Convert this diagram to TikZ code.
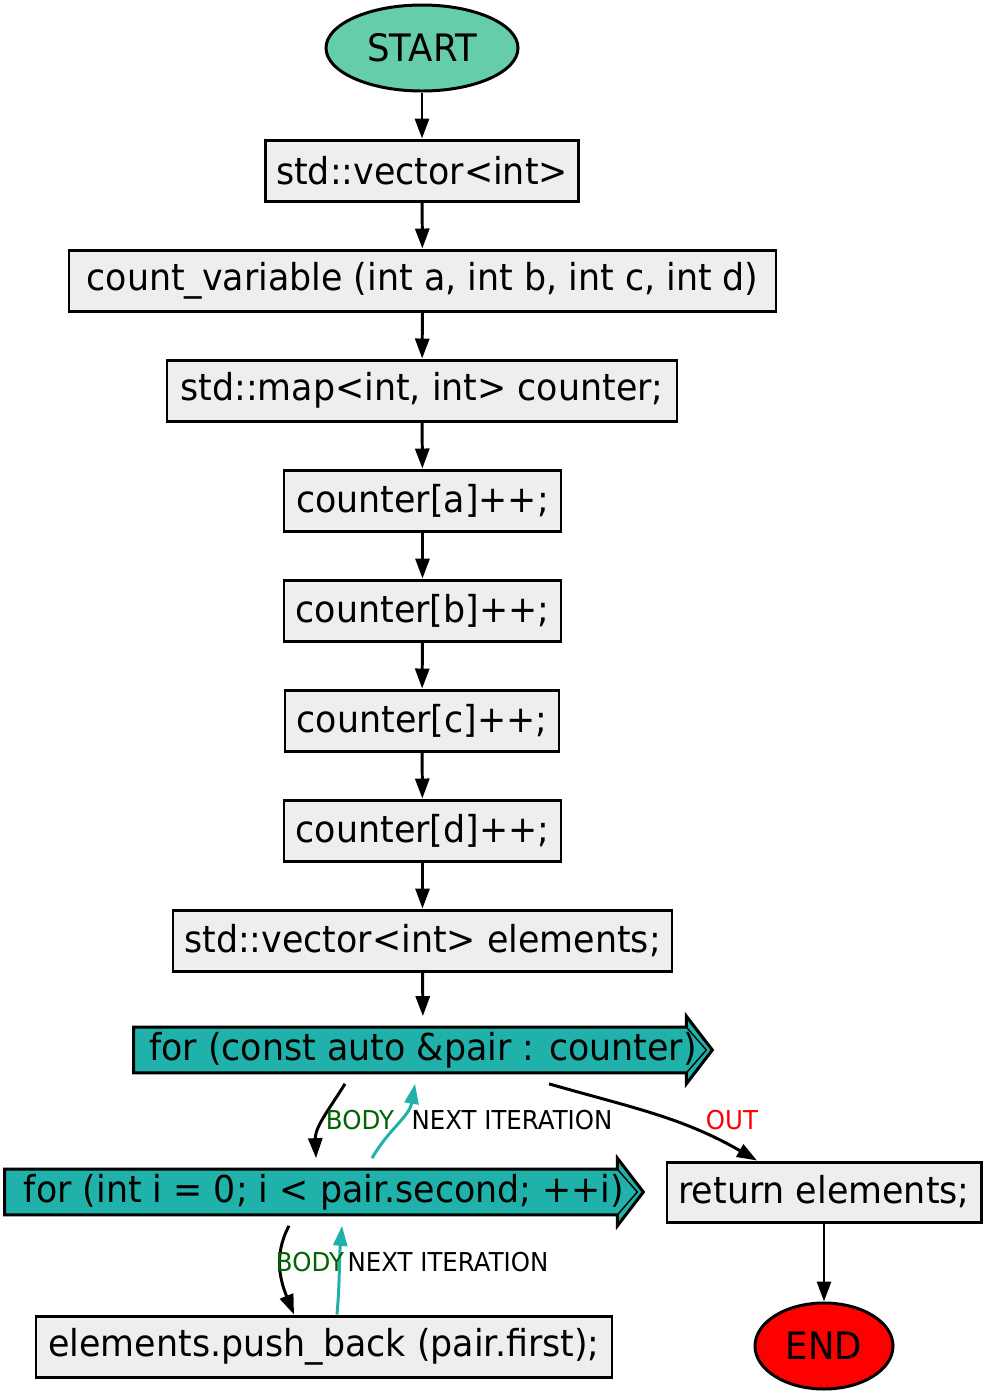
\documentclass[tikz,border=0pt]{standalone}
\usepackage{fontspec}
\setmainfont{DejaVu Sans}[FakeStretch=0.94]
\usetikzlibrary{arrows.meta,shapes.geometric}

\definecolor{boxgray}{HTML}{EEEEEE}
\definecolor{loopteal}{HTML}{20B2AA}
\definecolor{startgreen}{HTML}{66CDAA}
\definecolor{bodygreen}{HTML}{006400}

\pgfdeclarelayer{bg}
\pgfsetlayers{bg,main}

\tikzset{
	block/.style={draw, line width=1.7pt, fill=boxgray, minimum height=1.22cm, inner sep=0pt, font=\fontsize{21.1}{25}\selectfont},
	terminal/.style={ellipse, draw, line width=1.7pt, inner sep=0pt, minimum height=1.72cm, font=\fontsize{21.5}{25}\selectfont},
	loopnode/.style={minimum height=1.34cm, inner sep=0pt, font=\fontsize{21.1}{25}\selectfont},
	loopshape/.style={fill=loopteal, line width=1.7pt, line join=miter},
	flow/.style={->, line width=1.7pt},
	lbl/.style={inner sep=0pt, font=\fontsize{14.8}{17}\selectfont},
	>={Triangle[length=0.4cm, width=0.28cm]}
}

\begin{document}
\begin{tikzpicture}
	\useasboundingbox (0, 0) rectangle (19.72, -27.9);

	\node[terminal, fill=startgreen, minimum width=3.84cm] (start) at (8.44, -0.96) {START};
	\node[block, minimum width=6.26cm] (vec) at (8.44, -3.41) {std::vector<int>};
	\node[block, minimum width=14.14cm] (count) at (8.45, -5.61) {count\_variable (int a, int b, int c, int d)};
	\node[block, minimum width=10.2cm] (map) at (8.44, -7.81) {std::map<int, int> counter;};
	\node[block, minimum width=5.54cm] (ca) at (8.45, -10.01) {counter[a]++;};
	\node[block, minimum width=5.54cm] (cb) at (8.45, -12.21) {counter[b]++;};
	\node[block, minimum width=5.48cm] (cc) at (8.44, -14.41) {counter[c]++;};
	\node[block, minimum width=5.54cm] (cd) at (8.45, -16.61) {counter[d]++;};
	\node[block, minimum width=9.98cm] (elems) at (8.45, -18.81) {std::vector<int> elements;};

	% циклы
	\node[loopnode, minimum width=11.56cm] (for1) at (8.46, -21.0) {for (const auto \&pair : counter)};
	\node[loopnode, minimum width=12.76cm] (for2) at (6.48, -23.84) {for (int i = 0; i < pair.second; ++i)};
	\begin{pgfonlayer}{bg}
		\draw[loopshape] ([yshift=-0.22cm]for1.north west) -- ([xshift=-0.52cm, yshift=-0.22cm]for1.north east) -- ([xshift=-0.52cm]for1.north east) -- (for1.east) -- ([xshift=-0.52cm]for1.south east) -- ([xshift=-0.52cm, yshift=0.22cm]for1.south east) -- ([yshift=0.22cm]for1.south west) -- cycle;
		\draw[line width=0.8pt] ([xshift=-0.52cm, yshift=-0.22cm]for1.north east) -- ([xshift=-0.12cm]for1.east) -- ([xshift=-0.52cm, yshift=0.22cm]for1.south east);
		\draw[loopshape] ([yshift=-0.22cm]for2.north west) -- ([xshift=-0.52cm, yshift=-0.22cm]for2.north east) -- ([xshift=-0.52cm]for2.north east) -- (for2.east) -- ([xshift=-0.52cm]for2.south east) -- ([xshift=-0.52cm, yshift=0.22cm]for2.south east) -- ([yshift=0.22cm]for2.south west) -- cycle;
		\draw[line width=0.8pt] ([xshift=-0.52cm, yshift=-0.22cm]for2.north east) -- ([xshift=-0.12cm]for2.east) -- ([xshift=-0.52cm, yshift=0.22cm]for2.south east);
	\end{pgfonlayer}

	\node[block, minimum width=6.28cm, minimum height=1.2cm] (ret) at (16.48, -23.84) {return elements;};
	\node[block, minimum width=11.52cm] (push) at (6.48, -26.93) {elements.push\_back (pair.first);};
	\node[terminal, fill=red, minimum width=2.76cm] (stop) at (16.48, -26.92) {END};

	% переходы
	\draw[flow] (start) -- (vec);
	\draw[flow] (vec) -- (count);
	\draw[flow] (count) -- (map);
	\draw[flow] (map) -- (ca);
	\draw[flow] (ca) -- (cb);
	\draw[flow] (cb) -- (cc);
	\draw[flow] (cc) -- (cd);
	\draw[flow] (cd) -- (elems);
	\draw[flow] (elems) -- (for1);

	\draw[flow] ([xshift=-1.56cm]for1.south) to[out=-122, in=92] ([xshift=-0.16cm]for2.north);
	\draw[flow, color=loopteal] ([xshift=0.96cm]for2.north) to[out=60, in=-100] ([xshift=-0.16cm]for1.south);
	\draw[flow] ([xshift=2.52cm]for1.south) to[out=-16, in=150] ([xshift=-1.34cm]ret.north);
	\draw[flow] ([xshift=-0.7cm]for2.south) to[out=-118, in=112] ([xshift=-0.6cm]push.north);
	\draw[flow, color=loopteal] ([xshift=0.26cm]push.north) to[out=85, in=-95] ([xshift=0.36cm]for2.south);
	\draw[flow] (ret) -- (stop);

	\node[lbl, text=bodygreen] (body1) at (7.2, -22.4) {BODY};
	\node[lbl] (next1) at (10.24, -22.4) {NEXT ITERATION};
	\node[lbl, text=red] (out1) at (14.64, -22.4) {OUT};
	\node[lbl, text=bodygreen] (body2) at (6.2, -25.24) {BODY};
	\node[lbl] (next2) at (8.96, -25.24) {NEXT ITERATION};
\end{tikzpicture}
\end{document}
